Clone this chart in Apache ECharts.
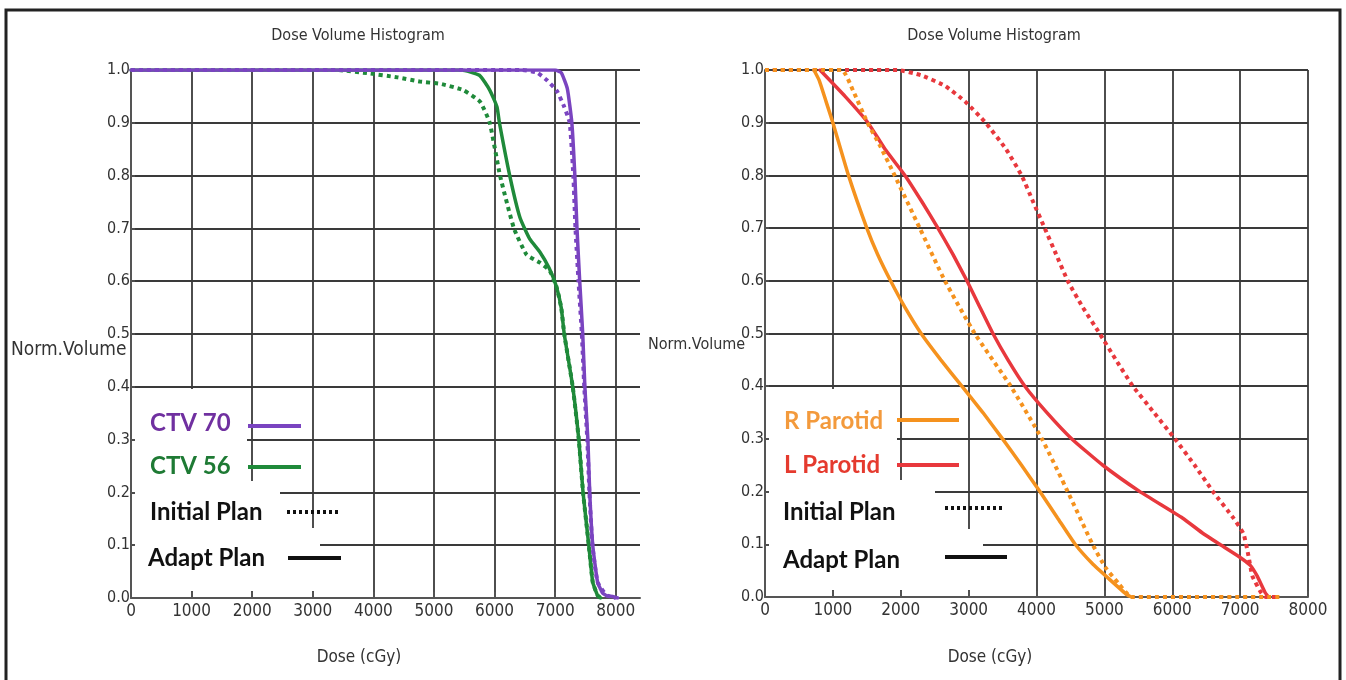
<!DOCTYPE html>
<html>
<head>
<meta charset="utf-8">
<script src="https://cdn.jsdelivr.net/npm/echarts@6/dist/echarts.min.js"></script>
<style>html,body{margin:0;padding:0;background:#fff}#c{width:1346px;height:680px}</style>
</head>
<body>
<div id="c"></div>
<script>
// ---- data (dose cGy, normalised volume) ----
const chartTitles = ['Dose Volume Histogram', 'Dose Volume Histogram'];
const xAxisName = 'Dose (cGy)';
const yAxisName = 'Norm.Volume';
const ctv70Adapt = [[0,1],[7000,1],[7100,0.995],[7200,0.965],[7275,0.9],[7325,0.8],[7360,0.7],[7405,0.6],[7455,0.5],[7490,0.4],[7540,0.3],[7570,0.2],[7620,0.1],[7700,0.03],[7780,0.01],[7850,0.004],[7950,0.003],[8030,0]];
const ctv70Initial = [[0,1],[6450,1],[6700,0.995],[6870,0.98],[7030,0.96],[7150,0.93],[7240,0.9],[7300,0.8],[7335,0.7],[7385,0.6],[7440,0.5],[7480,0.4],[7530,0.3],[7565,0.2],[7615,0.1],[7700,0.03],[7850,0.005],[8000,0]];
const ctv56Adapt = [[0,1],[5450,1],[5750,0.99],[5920,0.962],[6040,0.93],[6080,0.9],[6250,0.8],[6420,0.72],[6580,0.68],[6750,0.655],[6900,0.625],[7020,0.59],[7100,0.55],[7150,0.5],[7290,0.4],[7390,0.3],[7460,0.2],[7555,0.1],[7620,0.03],[7700,0.005],[7750,0]];
const ctv56Initial = [[0,1],[3400,1],[3900,0.994],[4400,0.986],[4770,0.978],[5100,0.974],[5480,0.962],[5760,0.94],[5920,0.9],[6090,0.8],[6320,0.7],[6530,0.65],[6750,0.635],[6910,0.62],[7020,0.59],[7100,0.55],[7150,0.5],[7290,0.4],[7390,0.3],[7460,0.2],[7555,0.1],[7620,0.03],[7700,0.005],[7750,0]];
const rParotidAdapt = [[720,1],[800,0.98],[900,0.94],[1000,0.9],[1230,0.8],[1500,0.7],[1660,0.65],[1850,0.6],[2060,0.55],[2300,0.5],[2590,0.45],[2900,0.4],[3210,0.35],[3500,0.3],[3780,0.25],[4050,0.2],[4310,0.15],[4570,0.1],[4825,0.063],[5080,0.033],[5335,0.004],[5400,0]];
const rParotidInitial = [[0,1],[1130,1],[1300,0.96],[1510,0.9],[1700,0.855],[1910,0.8],[2280,0.7],[2650,0.6],[3090,0.5],[3620,0.4],[4080,0.3],[4460,0.2],[4825,0.1],[5016,0.056],[5207,0.026],[5400,0],[7630,0]];
const lParotidAdapt = [[810,1],[1180,0.95],[1517,0.9],[1767,0.85],[2062,0.8],[2312,0.75],[2548,0.7],[2769,0.65],[2975,0.6],[3166,0.55],[3358,0.5],[3579,0.45],[3829,0.4],[4153,0.35],[4521,0.3],[4978,0.25],[5523,0.2],[6150,0.15],[6460,0.12],[6700,0.1],[6990,0.076],[7150,0.06],[7250,0.04],[7370,0.008],[7420,0]];
const lParotidInitial = [[0,1],[1950,1],[2300,0.99],[2650,0.97],[2950,0.94],[3250,0.9],[3550,0.85],[3780,0.8],[3950,0.75],[4120,0.7],[4290,0.65],[4460,0.6],[4680,0.55],[4930,0.5],[5170,0.45],[5420,0.4],[5730,0.35],[6040,0.3],[6330,0.25],[6600,0.2],[6900,0.15],[7050,0.12],[7120,0.08],[7180,0.04],[7300,0.01],[7375,0],[7565,0]];
const legendLeft = ['CTV 70', 'CTV 56', 'Initial Plan', 'Adapt Plan'];
const legendRight = ['R Parotid', 'L Parotid', 'Initial Plan', 'Adapt Plan'];

// ---- styling ----
const NARROW = "'Liberation Sans Narrow','DejaVu Sans Condensed','Liberation Sans',sans-serif";
const LEG = "Lato, 'Open Sans', sans-serif";
const PURPLE = '#7a44c0', GREEN = '#1f8a3a', ORANGE = '#f5921e', RED = '#e8383d';
const GRIDC = '#3a3a3a';

function xAx(gi, max) {
  return {
    type: 'value', gridIndex: gi, min: 0, max: max, interval: 1000,
    axisLine: {show: true, lineStyle: {color: '#555', width: 2}},
    axisTick: {show: true, inside: true, length: 6, lineStyle: {color: '#555', width: 1.5}},
    axisLabel: {color: '#333', fontFamily: NARROW, fontSize: 17, margin: 5, showMaxLabel: max === 8000,
      formatter: v => (v % 1000 === 0 ? String(v) : '')},
    splitLine: {show: true, showMinLine: false, showMaxLine: max === 8000, lineStyle: {color: GRIDC, width: 1.8}}
  };
}
function yAx(gi) {
  return {
    type: 'value', gridIndex: gi, min: 0, max: 1, interval: 0.1,
    axisLine: {show: true, lineStyle: {color: '#555', width: 2}},
    axisTick: {show: true, inside: true, length: 4, lineStyle: {color: '#555', width: 1.5}},
    axisLabel: {color: '#333', fontFamily: NARROW, fontSize: 16, margin: 1, verticalAlign: 'middle', padding: [0, 0, 4, 0],
      formatter: v => v.toFixed(1)},
    splitLine: {show: true, showMinLine: false, lineStyle: {color: GRIDC, width: 1.8}}
  };
}
function ser(data, color, dotted, gi) {
  return {
    type: 'line', data: data, xAxisIndex: gi, yAxisIndex: gi, showSymbol: false, symbol: 'none',
    smooth: 0.15, z: 3,
    lineStyle: dotted ? {color: color, width: 4, type: [4, 4], cap: 'butt'} : {color: color, width: 3.5, cap: 'round'},
    silent: true
  };
}

function legendGraphics(x0, ys, labels, colors) {
  return labels.map((t, i) => ({type: 'text', z: 10, x: x0[i], y: ys[i],
    style: {text: t, fill: colors[i], font: "bold 24px " + LEG, textVerticalAlign: 'middle'}}));
}

const chart = echarts.init(document.getElementById('c'), null, {renderer: 'canvas'});
const graphics = [
  // outer frame
  {type: 'rect', z: 0, shape: {x: 6, y: 10, width: 1334, height: 700}, style: {fill: 'none', stroke: '#222', lineWidth: 3}},
  // legend backgrounds (left)
  {type: 'rect', z: 1, shape: {x: 135, y: 389, width: 112, height: 202}, style: {fill: '#fff'}},
  {type: 'rect', z: 1, shape: {x: 246, y: 481, width: 34, height: 110}, style: {fill: '#fff'}},
  {type: 'rect', z: 1, shape: {x: 279, y: 528, width: 41, height: 63}, style: {fill: '#fff'}},
  // legend backgrounds (right)
  {type: 'rect', z: 1, shape: {x: 769, y: 389, width: 128, height: 201}, style: {fill: '#fff'}},
  {type: 'rect', z: 1, shape: {x: 896, y: 480, width: 39, height: 110}, style: {fill: '#fff'}},
  {type: 'rect', z: 1, shape: {x: 934, y: 529, width: 49, height: 61}, style: {fill: '#fff'}},
  // hide tick at the 8400 end of the left axis
  {type: 'rect', z: 1, shape: {x: 636, y: 588, width: 8, height: 8}, style: {fill: '#fff'}},
  // titles & axis names
  {type: 'text', z: 10, x: 358, y: 36, style: {text: chartTitles[0], fill: '#333', font: "16px " + NARROW, textAlign: 'center', textVerticalAlign: 'middle'}},
  {type: 'text', z: 10, x: 994, y: 36, style: {text: chartTitles[1], fill: '#333', font: "16px " + NARROW, textAlign: 'center', textVerticalAlign: 'middle'}},
  {type: 'text', z: 10, x: 11, y: 350, style: {text: yAxisName, fill: '#333', font: "19px " + NARROW, textVerticalAlign: 'middle'}},
  {type: 'text', z: 10, x: 648, y: 345, style: {text: yAxisName, fill: '#333', font: "16px " + NARROW, textVerticalAlign: 'middle'}},
  {type: 'text', z: 10, x: 359, y: 658, style: {text: xAxisName, fill: '#333', font: "17px " + NARROW, textAlign: 'center', textVerticalAlign: 'middle'}},
  {type: 'text', z: 10, x: 990, y: 658, style: {text: xAxisName, fill: '#333', font: "17px " + NARROW, textAlign: 'center', textVerticalAlign: 'middle'}},
  // legend keys left
  {type: 'line', z: 10, shape: {x1: 248, y1: 426, x2: 301, y2: 426}, style: {stroke: PURPLE, lineWidth: 4}},
  {type: 'line', z: 10, shape: {x1: 248, y1: 467, x2: 301, y2: 467}, style: {stroke: GREEN, lineWidth: 4}},
  {type: 'line', z: 10, shape: {x1: 287, y1: 512, x2: 340, y2: 512}, style: {stroke: '#111', lineWidth: 4, lineDash: [3, 3]}},
  {type: 'line', z: 10, shape: {x1: 288, y1: 558, x2: 341, y2: 558}, style: {stroke: '#111', lineWidth: 4}},
  // legend keys right
  {type: 'line', z: 10, shape: {x1: 897, y1: 420, x2: 959, y2: 420}, style: {stroke: ORANGE, lineWidth: 4}},
  {type: 'line', z: 10, shape: {x1: 897, y1: 465, x2: 959, y2: 465}, style: {stroke: RED, lineWidth: 4}},
  {type: 'line', z: 10, shape: {x1: 945, y1: 508, x2: 1003, y2: 508}, style: {stroke: '#111', lineWidth: 4, lineDash: [3, 3]}},
  {type: 'line', z: 10, shape: {x1: 945, y1: 557, x2: 1007, y2: 557}, style: {stroke: '#111', lineWidth: 4}}
].concat(
  legendGraphics([150, 150, 150, 148], [423, 466, 512, 558], legendLeft, ['#7030a0', '#1e7a34', '#111', '#111']),
  legendGraphics([784, 784, 783, 783], [421, 465, 512, 560], legendRight, ['#f39a3c', '#e53a2e', '#111', '#111'])
);

chart.setOption({
  animation: false,
  grid: [
    {left: 131, top: 70, width: 509, height: 528},
    {left: 765, top: 70, width: 543, height: 527}
  ],
  xAxis: [xAx(0, 8400), xAx(1, 8000)],
  yAxis: [yAx(0), yAx(1)],
  series: [
    ser(ctv56Initial, GREEN, true, 0),
    ser(ctv56Adapt, GREEN, false, 0),
    ser(ctv70Initial, PURPLE, true, 0),
    ser(ctv70Adapt, PURPLE, false, 0),
    ser(lParotidInitial, RED, true, 1),
    ser(lParotidAdapt, RED, false, 1),
    ser(rParotidAdapt, ORANGE, false, 1),
    ser(rParotidInitial, ORANGE, true, 1)
  ],
  graphic: {elements: graphics}
});
</script>
</body>
</html>
